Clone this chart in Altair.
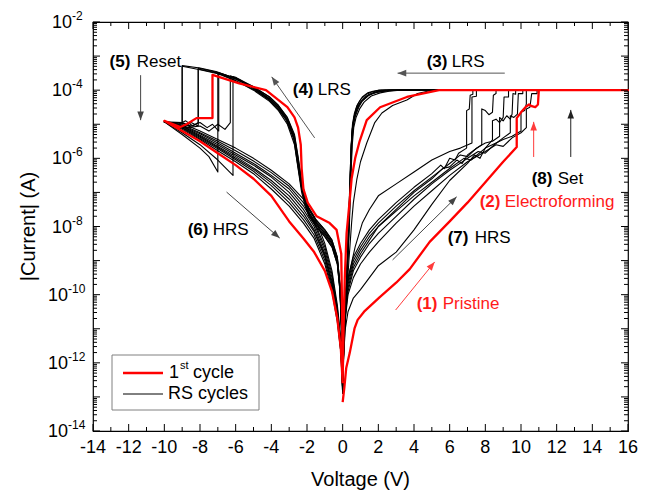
import altair as alt
import pandas as pd

FONT = "Liberation Sans"
W, H = 535, 409

# ---------------- data (voltage in V, current as log10(|I| / A)) ----------------
# shared voltage grid of the negative HRS branch, swept from -9 V back to 0 V
hrs_neg_v = [-9, -8, -7, -6, -5, -4, -3, -2.2, -1.6, -1.0, -0.6, -0.3, -0.1, 0]

# 1st cycle (red): pristine -> electroforming -> LRS(+) -> LRS(-) -> reset -> HRS(-)
red_v = [0, 0.1, 0.2, 0.4, 0.67, 0.84, 1.2, 2.08, 3.0, 3.76, 4.88, 6.0, 7.0, 8.0, 9.0, 9.76,
         9.76, 10.0, 10.25, 10.45, 10.6, 10.8, 10.95, 11.0, 16.0,
         5.4, 3.6, 2.1, 1.35, 0.95, 0.7, 0.5, 0.4, 0.22, 0.12, 0.05, 0.0,
         -0.03, -0.08, -0.34, -0.73, -1.46, -1.96, -2.2, -2.3, -2.35, -2.5, -2.7, -3.1, -4.3, -5.8, -7.3,
         -7.3, -8.2, -8.75, -9.1, -10.0] + hrs_neg_v
red_logi = [-13.15, -12.7, -12.15, -11.7, -10.98, -10.74, -10.5, -10.07, -9.65, -9.25, -8.45, -7.85, -7.3, -6.7, -6.1, -5.67,
            -4.82, -4.65, -4.5, -4.42, -4.47, -4.5, -4.42, -4.0, -4.0,
            -4.0, -4.2, -4.5, -4.88, -5.5, -6.0, -6.6, -7.2, -8.2, -9.5, -11.0, -12.5,
            -10.5, -8.8, -8.1, -7.9, -7.7, -7.3, -6.9, -6.3, -5.6, -5.1, -4.8, -4.5, -4.0, -3.8, -3.55,
            -4.82, -4.82, -5.0, -5.08, -4.9,
            -5.2, -5.5, -5.85, -6.2, -6.6, -7.1, -7.85, -8.35, -8.75, -9.3, -9.9, -10.7, -11.6, -12.6]

# RS cycles (black): HRS(+) -> set -> compliance -> LRS(+) -> LRS(-) -> reset -> HRS(-)
b1_v = ([0, 0.05, 0.15, 0.3, 0.6, 1, 1.5, 2, 3, 4, 5, 5.5, 5.7, 6, 6.3, 6.5, 6.95]
        + [6.95, 7.1, 7.15, 7.3, 7.3] + [12.0]
        + [3.0, 2.5, 2.0, 1.5, 1.1, 0.9, 0.7, 0.6, 0.5, 0.45, 0.4, 0.35, 0.3, 0.22, 0.12, 0.05, 0]
        + [-0.05, -0.15, -0.3, -0.6, -1.0, -1.5, -1.9, -2.1, -2.3, -2.5, -2.7, -3.1, -3.6, -4.1, -5.0, -6.0, -6.15]
        + [-6.15, -7, -8, -9, -10] + hrs_neg_v)
b1_logi = ([-12.7, -11.2, -10.2, -9.5, -8.9, -8.5, -8.1, -7.8, -7.3, -6.85, -6.45, -6.2, -6.3, -6.0, -6.05, -5.85, -5.7]
           + [-4.6, -4.55, -4.15, -4.12, -4.0] + [-4.0]
           + [-4.0, -4.02, -4.05, -4.12, -4.3, -4.45, -4.7, -4.95, -5.5, -6.2, -7.0, -7.8, -8.6, -9.6, -10.8, -11.8, -12.7]
           + [-11.2, -9.8, -9.0, -8.5, -8.2, -7.9, -7.6, -7.3, -6.9, -6.2, -5.5, -4.9, -4.55, -4.3, -3.95, -3.62, -3.6]
           + [-6.5, -6.05, -5.6, -5.25, -4.93]
           + [-5.08, -5.35, -5.65, -5.95, -6.28, -6.65, -7.1, -7.6, -8.1, -8.85, -9.7, -10.6, -11.6, -12.7])

b2_v = ([0, 0.05, 0.15, 0.3, 0.6, 1, 1.5, 2, 3, 4, 5, 5.6, 6, 6.4, 6.7, 7, 7.4, 7.8]
        + [7.8, 8.0, 8.2, 8.4, 8.45, 8.6, 8.6] + [12.0]
        + [2.6, 2.2, 1.8, 1.4, 1.0, 0.8, 0.65, 0.55, 0.48, 0.43, 0.38, 0.33, 0.28, 0.2, 0.1, 0.04, 0]
        + [-0.05, -0.15, -0.3, -0.6, -1.0, -1.5, -1.85, -2.05, -2.25, -2.45, -2.65, -3.0, -3.5, -4.1, -5.0, -6.0, -7.0, -8.1]
        + [-8.1, -8.5, -9.0, -9.5, -10] + hrs_neg_v)
b2_logi = ([-12.8, -11.4, -10.5, -9.8, -9.2, -8.8, -8.4, -8.0, -7.5, -7.0, -6.6, -6.3, -6.25, -6.05, -6.15, -5.9, -5.75, -5.6]
           + [-4.55, -4.6, -4.72, -4.65, -4.15, -4.1, -4.0] + [-4.0]
           + [-4.0, -4.03, -4.07, -4.16, -4.36, -4.55, -4.8, -5.1, -5.6, -6.3, -7.1, -7.9, -8.7, -9.7, -10.9, -11.9, -12.8]
           + [-11.3, -9.9, -9.1, -8.6, -8.3, -8.0, -7.7, -7.35, -6.95, -6.25, -5.55, -4.95, -4.55, -4.25, -3.92, -3.65, -3.48, -3.35]
           + [-5.05, -4.95, -5.1, -5.0, -4.93]
           + [-5.02, -5.25, -5.5, -5.78, -6.08, -6.42, -6.82, -7.3, -7.85, -8.6, -9.4, -10.4, -11.4, -12.8])

b3_v = ([0, 0.05, 0.15, 0.3, 0.6, 1, 1.5, 2, 3, 4, 5, 6, 7, 7.4, 7.7, 8, 8.4]
        + [8.4, 8.6, 8.8, 9.0, 9.05, 9.3, 9.3] + [12.0]
        + [5.0, 4.2, 3.6, 2.8, 2.2, 1.8, 1.35, 1.0, 0.8, 0.6, 0.5, 0.42, 0.35, 0.28, 0.2, 0.1, 0.04, 0]
        + [-0.05, -0.15, -0.3, -0.6, -1.0, -1.5, -1.9, -2.1, -2.3, -2.5, -2.7, -3.14, -3.6, -4.1, -5.2, -6.2, -7.1, -8.0, -9.0]
        + [-9.0, -9.3, -9.6, -10] + hrs_neg_v)
b3_logi = ([-12.9, -11.8, -11.0, -10.5, -10.1, -9.85, -9.5, -9.15, -8.75, -8.1, -7.35, -6.65, -6.15, -5.9, -6.0, -5.7, -5.46]
           + [-4.9, -4.85, -4.95, -4.8, -4.2, -4.2, -4.0] + [-4.0]
           + [-4.0, -4.1, -4.29, -4.45, -4.67, -4.95, -5.55, -6.1, -6.6, -7.3, -7.9, -8.5, -9.0, -9.6, -10.3, -11.2, -12.0, -12.9]
           + [-11.0, -9.7, -8.9, -8.4, -8.1, -7.8, -7.5, -7.15, -6.8, -6.1, -5.4, -4.85, -4.5, -4.25, -3.88, -3.62, -3.45, -3.35, -3.28]
           + [-4.95, -5.05, -4.95, -4.93]
           + [-5.15, -5.45, -5.78, -6.1, -6.45, -6.9, -7.4, -7.9, -8.35, -9.1, -9.9, -10.8, -11.7, -12.9])

b4_v = ([0, 0.05, 0.15, 0.3, 0.6, 1, 1.5, 2, 3, 4, 5, 6, 6.6, 7, 7.5, 8, 8.4, 8.8]
        + [8.8, 9.0, 9.2, 9.4, 9.5, 9.55, 9.7, 9.7] + [12.0]
        + [2.2, 1.9, 1.6, 1.3, 1.0, 0.8, 0.65, 0.55, 0.5, 0.46, 0.42, 0.37, 0.32, 0.24, 0.13, 0.05, 0]
        + [-0.05, -0.15, -0.3, -0.6, -1.0, -1.5, -1.95, -2.15, -2.35, -2.55, -2.75, -3.2, -3.7, -4.2, -5.0, -6.0, -6.95]
        + [-6.95, -7.3, -7.6, -8.0, -8.5, -9.0, -10] + hrs_neg_v)
b4_logi = ([-12.8, -11.3, -10.3, -9.6, -9.0, -8.6, -8.2, -7.9, -7.4, -6.95, -6.55, -6.15, -5.9, -5.95, -5.7, -5.55, -5.5, -5.35]
           + [-4.8, -4.9, -4.75, -4.85, -4.7, -4.1, -4.12, -4.0] + [-4.0]
           + [-4.0, -4.02, -4.06, -4.13, -4.28, -4.45, -4.7, -5.0, -5.4, -6.0, -6.8, -7.7, -8.5, -9.5, -10.7, -11.7, -12.7]
           + [-11.2, -9.8, -9.0, -8.5, -8.2, -7.9, -7.55, -7.2, -6.75, -6.1, -5.4, -4.85, -4.5, -4.25, -3.98, -3.72, -3.5]
           + [-5.2, -5.0, -5.1, -4.95, -5.05, -4.95, -4.93]
           + [-4.98, -5.2, -5.45, -5.7, -6.0, -6.35, -6.75, -7.2, -7.7, -8.5, -9.3, -10.3, -11.3, -12.7])

b5_v = ([0, 0.05, 0.15, 0.3, 0.6, 1, 1.5, 2, 3, 4, 5, 6, 7, 7.6, 8, 8.5, 9, 9.4]
        + [9.4, 9.6, 9.8, 9.85, 10.1, 10.1] + [12.0]
        + [2.8, 2.3, 1.9, 1.5, 1.1, 0.9, 0.72, 0.6, 0.52, 0.47, 0.42, 0.37, 0.31, 0.23, 0.12, 0.05, 0]
        + [-0.05, -0.15, -0.3, -0.6, -1.0, -1.5, -1.9, -2.1, -2.3, -2.5, -2.7, -3.1, -3.6, -4.1, -5.0, -5.8, -6.3]
        + [-6.3, -6.6, -7.0, -7.5, -8.0, -8.7, -9.3, -10] + hrs_neg_v)
b5_logi = ([-12.7, -11.5, -10.6, -9.9, -9.3, -8.9, -8.5, -8.2, -7.7, -7.2, -6.75, -6.35, -6.0, -5.8, -5.85, -5.6, -5.4, -5.25]
           + [-4.75, -4.8, -4.7, -4.1, -4.1, -4.0] + [-4.0]
           + [-4.0, -4.02, -4.06, -4.14, -4.32, -4.5, -4.75, -5.05, -5.55, -6.25, -7.05, -7.85, -8.65, -9.6, -10.8, -11.8, -12.7]
           + [-11.1, -9.75, -8.95, -8.45, -8.15, -7.85, -7.5, -7.15, -6.7, -6.0, -5.35, -4.82, -4.45, -4.2, -3.9, -3.68, -3.58]
           + [-4.95, -5.15, -5.0, -5.2, -5.05, -5.1, -4.98, -4.93]
           + [-5.06, -5.32, -5.6, -5.9, -6.2, -6.55, -7.0, -7.5, -8.0, -8.8, -9.6, -10.5, -11.5, -12.8])

b6_v = ([0, 0.05, 0.15, 0.3, 0.6, 1, 1.5, 2, 3, 4, 5, 6, 6.8, 7.2, 8, 8.6, 9, 9.5, 10]
        + [10.0, 10.2, 10.3, 10.3] + [12.0]
        + [2.4, 2.0, 1.7, 1.3, 1.0, 0.8, 0.65, 0.55, 0.49, 0.44, 0.39, 0.34, 0.29, 0.21, 0.11, 0.04, 0]
        + [-0.05, -0.15, -0.3, -0.6, -1.0, -1.5, -1.9, -2.1, -2.3, -2.5, -2.7, -3.1, -3.6, -4.1, -5.0, -6.0, -7.0, -8.1]
        + [-8.1, -8.4, -8.8, -9.2, -10] + hrs_neg_v)
b6_logi = ([-12.8, -11.4, -10.4, -9.7, -9.1, -8.7, -8.3, -8.0, -7.55, -7.1, -6.7, -6.3, -6.0, -6.05, -5.7, -5.55, -5.45, -5.35, -5.2]
           + [-4.65, -4.6, -4.4, -4.0] + [-4.0]
           + [-4.0, -4.03, -4.08, -4.18, -4.35, -4.52, -4.78, -5.1, -5.6, -6.35, -7.15, -7.95, -8.75, -9.7, -10.9, -11.9, -12.8]
           + [-11.2, -9.85, -9.05, -8.55, -8.25, -7.95, -7.6, -7.25, -6.85, -6.15, -5.45, -4.9, -4.5, -4.27, -3.94, -3.67, -3.5, -3.38]
           + [-4.95, -5.05, -4.9, -5.0, -4.93]
           + [-5.12, -5.42, -5.72, -6.04, -6.38, -6.8, -7.3, -7.8, -8.25, -9.0, -9.8, -10.7, -11.7, -12.9])

b7_v = ([0, 0.05, 0.15, 0.3, 0.6, 1, 1.5, 2, 3, 4, 5, 6, 7, 8, 8.6, 9, 9.5, 10, 10.3]
        + [10.3, 10.5, 10.6, 10.9, 10.9] + [12.0]
        + [3.2, 2.6, 2.1, 1.6, 1.2, 0.95, 0.75, 0.62, 0.54, 0.48, 0.43, 0.38, 0.32, 0.24, 0.13, 0.05, 0]
        + [-0.05, -0.15, -0.3, -0.6, -1.0, -1.5, -1.9, -2.1, -2.3, -2.5, -2.7, -3.1, -3.6, -4.1, -5.0, -6.0, -7.0]
        + [-7.0, -7.5, -8.0, -9.0, -10] + hrs_neg_v)
b7_logi = ([-12.9, -11.6, -10.7, -10.0, -9.5, -9.1, -8.75, -8.45, -7.9, -7.4, -6.95, -6.5, -6.1, -5.8, -5.6, -5.65, -5.4, -5.25, -5.1]
           + [-4.55, -4.5, -4.1, -4.1, -4.0] + [-4.0]
           + [-4.0, -4.03, -4.08, -4.17, -4.35, -4.55, -4.8, -5.1, -5.6, -6.3, -7.1, -7.9, -8.7, -9.7, -10.9, -11.9, -12.9]
           + [-11.0, -9.7, -8.9, -8.4, -8.1, -7.8, -7.45, -7.1, -6.65, -5.95, -5.3, -4.8, -4.45, -4.2, -3.9, -3.66, -3.48]
           + [-6.4, -5.95, -5.7, -5.3, -4.93]
           + [-5.05, -5.28, -5.55, -5.85, -6.15, -6.5, -6.9, -7.4, -7.9, -8.7, -9.5, -10.5, -11.5, -12.7])

b8_v = ([0, 0.05, 0.15, 0.4, 0.7, 1.1, 1.5, 2, 3, 4, 5, 6, 6.6, 7.25]
        + [7.25, 7.5, 7.5] + [12.0]
        + [2.0, 1.7, 1.4, 1.1, 0.9, 0.75, 0.62, 0.53, 0.47, 0.42, 0.37, 0.32, 0.27, 0.2, 0.1, 0.04, 0]
        + [-0.05, -0.15, -0.3, -0.6, -1.0, -1.5, -1.9, -2.1, -2.3, -2.5, -2.7, -3.1, -3.6, -4.1, -5.0, -6.0, -7.0, -8.0, -9.0]
        + [-9.0, -9.4, -10] + hrs_neg_v)
b8_logi = ([-12.6, -10.9, -9.9, -9.3, -8.6, -7.9, -7.5, -7.1, -6.75, -6.4, -6.05, -5.8, -5.7, -5.55]
           + [-4.2, -4.18, -4.0] + [-4.0]
           + [-4.0, -4.03, -4.08, -4.2, -4.36, -4.55, -4.82, -5.2, -5.75, -6.5, -7.35, -8.15, -8.9, -9.8, -11.0, -11.9, -12.7]
           + [-11.3, -9.9, -9.1, -8.6, -8.3, -8.0, -7.7, -7.4, -7.0, -6.3, -5.6, -5.0, -4.6, -4.33, -4.0, -3.72, -3.52, -3.4, -3.3]
           + [-5.1, -4.98, -4.93]
           + [-5.1, -5.38, -5.68, -6.0, -6.32, -6.72, -7.2, -7.7, -8.15, -8.9, -9.7, -10.6, -11.6, -12.8])

# axis ticks / labels
x_tick_values = list(range(-14, 17, 2))
x_minor_values = list(range(-13, 16, 2))
y_decades = list(range(-14, -1))
y_label_exponents = [-14, -12, -10, -8, -6, -4, -2]

# annotations: bold number, plain word, colour
ann_num = ["(5)", "(4)", "(3)", "(6)", "(7)", "(2)", "(8)", "(1)"]
ann_word = ["Reset", "LRS", "LRS", "HRS", "HRS", "Electroforming", "Set", "Pristine"]
ann_num_v = [-13.07, -2.80, 4.71, -8.69, 5.89, 7.68, 10.60, 4.15]
ann_word_v = [-11.55, -1.40, 6.11, -7.29, 7.40, 9.09, 12.06, 5.61]
ann_logi = [-3.17, -4.0, -3.17, -8.10, -8.34, -7.28, -6.61, -10.27]
ann_color = ["black", "black", "black", "black", "black", "#ff1a1a", "black", "#ff1a1a"]

arrow_v0 = [-11.33, -1.57, 9.09, -6.51, 2.80, 10.71, 12.79, 2.97]
arrow_l0 = [-3.56, -5.40, -3.50, -6.99, -8.98, -5.96, -5.96, -10.45]
arrow_v1 = [-11.33, -3.98, 3.08, -3.53, 6.39, 10.71, 12.79, 5.16]
arrow_l1 = [-4.88, -3.61, -3.50, -8.34, -7.13, -4.93, -4.58, -9.04]
arrow_angle = [180, 325, 270, 131, 45, 0, 0, 39]
arrow_color = ["#444444", "#555555", "#555555", "#444444", "#444444", "#ff3b3b", "#222222", "#ff3b3b"]

# ---------------- build tables ----------------
def path_rows(name, vs, ls):
    assert len(vs) == len(ls), (name, len(vs), len(ls))
    return [{"cycle": name, "step": i, "V": v, "I": 10 ** l} for i, (v, l) in enumerate(zip(vs, ls))]

black_rows = []
for nm, vv, ll in [("b1", b1_v, b1_logi), ("b2", b2_v, b2_logi), ("b3", b3_v, b3_logi),
                   ("b4", b4_v, b4_logi), ("b5", b5_v, b5_logi), ("b6", b6_v, b6_logi),
                   ("b7", b7_v, b7_logi), ("b8", b8_v, b8_logi)]:
    black_rows += path_rows(nm, vv, ll)
black_df = pd.DataFrame(black_rows)
red_df = pd.DataFrame(path_rows("red", red_v, red_logi))

xscale = alt.Scale(domain=[-14, 16], nice=False, zero=False)
yscale = alt.Scale(type="log", domain=[1e-14, 1e-2], nice=False)

def X(f="V"):
    return alt.X(f"{f}:Q", scale=xscale, axis=None)

def Y(f="I"):
    return alt.Y(f"{f}:Q", scale=yscale, axis=None)

black = alt.Chart(black_df).mark_line(color="black", strokeWidth=1.1, strokeJoin="round").encode(
    x=X(), y=Y(), detail="cycle:N", order="step:Q")
red = alt.Chart(red_df).mark_line(color="#ff0000", strokeWidth=2.3, strokeJoin="round").encode(
    x=X(), y=Y(), detail="cycle:N", order="step:Q")

# ticks (inward)
xt = pd.DataFrame({"V": x_tick_values})
xm = pd.DataFrame({"V": x_minor_values})
yt = pd.DataFrame({"I": [10.0 ** d for d in y_decades]})
ym = pd.DataFrame({"I": [m * 10.0 ** d for d in y_decades[:-1] for m in range(2, 10)]})

def xticks(df, L):
    b = alt.Chart(df).mark_rule(color="black", strokeWidth=1).encode(x=X(), y=alt.value(H), y2=alt.value(H - L))
    t = alt.Chart(df).mark_rule(color="black", strokeWidth=1).encode(x=X(), y=alt.value(0), y2=alt.value(L))
    return b + t

def yticks(df, L):
    l = alt.Chart(df).mark_rule(color="black", strokeWidth=1).encode(y=Y(), x=alt.value(0), x2=alt.value(L))
    r = alt.Chart(df).mark_rule(color="black", strokeWidth=1).encode(y=Y(), x=alt.value(W), x2=alt.value(W - L))
    return l + r

ticks = xticks(xt, 7) + xticks(xm, 4) + yticks(yt, 7) + yticks(ym, 4)

# tick labels
xl_df = pd.DataFrame({"V": x_tick_values, "t": [str(v) for v in x_tick_values]})
x_labels = alt.Chart(xl_df).mark_text(font=FONT, fontSize=18, baseline="middle", align="center", color="black").encode(
    x=X(), y=alt.value(H + 17), text="t:N")

yl_df = pd.DataFrame({"I": [10.0 ** e for e in y_label_exponents],
                      "e": [str(e) for e in y_label_exponents],
                      "two": [len(str(e)) > 2 for e in y_label_exponents]})
y_labels = alt.layer()
for two, xpos in [(True, -25), (False, -21)]:
    d = yl_df[yl_df["two"] == two]
    y_labels += alt.Chart(d).mark_text(font=FONT, fontSize=18, baseline="middle", align="right", dy=1, color="black").encode(
        x=alt.value(xpos), y=Y(), text=alt.value("10"))
    y_labels += alt.Chart(d).mark_text(font=FONT, fontSize=12, baseline="middle", align="left", dy=-6, color="black").encode(
        x=alt.value(xpos), y=Y(), text="e:N")

one = pd.DataFrame({"a": [0]})
x_title = alt.Chart(one).mark_text(font=FONT, fontSize=20, align="center", baseline="middle", color="black",
                                   text="Voltage (V)").encode(x=alt.value(W / 2), y=alt.value(H + 49))
y_title = alt.Chart(one).mark_text(font=FONT, fontSize=20, align="center", baseline="middle", angle=270, color="black",
                                   text="|Current| (A)").encode(x=alt.value(-64), y=alt.value(H / 2))

# annotations
ann_df = pd.DataFrame({"num": ann_num, "word": ann_word, "vn": ann_num_v, "vw": ann_word_v,
                       "I": [10 ** l for l in ann_logi], "c": ann_color})
ann_num_layer = alt.Chart(ann_df).mark_text(font=FONT, fontSize=17, fontWeight="bold", align="left", baseline="middle").encode(
    x=X("vn"), y=Y(), text="num:N", color=alt.Color("c:N", scale=None))
ann_word_layer = alt.Chart(ann_df).mark_text(font=FONT, fontSize=17, align="left", baseline="middle").encode(
    x=X("vw"), y=Y(), text="word:N", color=alt.Color("c:N", scale=None))

arr_df = pd.DataFrame({"v0": arrow_v0, "v1": arrow_v1,
                       "i0": [10 ** l for l in arrow_l0], "i1": [10 ** l for l in arrow_l1],
                       "ang": arrow_angle, "c": arrow_color})
arrow_lines = alt.Chart(arr_df).mark_rule(strokeWidth=1).encode(
    x=X("v0"), x2="v1:Q", y=Y("i0"), y2="i1:Q", color=alt.Color("c:N", scale=None))
arrow_heads = alt.Chart(arr_df).mark_point(shape="M0,0L-0.38,1L0.38,1Z", filled=True, size=300, opacity=1).encode(
    x=X("v1"), y=Y("i1"), angle=alt.Angle("ang:Q", scale=None), color=alt.Color("c:N", scale=None))

# legend
leg_box = alt.Chart(one).mark_rect(fill="white", stroke="#808080", strokeWidth=1).encode(
    x=alt.value(19), x2=alt.value(166), y=alt.value(333), y2=alt.value(388))
leg_red = alt.Chart(one).mark_rule(color="#ff0000", strokeWidth=2.5).encode(
    x=alt.value(30), x2=alt.value(70), y=alt.value(351))
leg_black = alt.Chart(one).mark_rule(color="black", strokeWidth=1).encode(
    x=alt.value(30), x2=alt.value(70), y=alt.value(372))
leg_t1 = alt.Chart(one).mark_text(font=FONT, fontSize=18, align="left", baseline="middle", color="black", text="1").encode(
    x=alt.value(76), y=alt.value(351))
leg_st = alt.Chart(one).mark_text(font=FONT, fontSize=11, align="left", baseline="middle", color="black", text="st").encode(
    x=alt.value(87), y=alt.value(344))
leg_cyc = alt.Chart(one).mark_text(font=FONT, fontSize=18, align="left", baseline="middle", color="black", text="cycle").encode(
    x=alt.value(100), y=alt.value(351))
leg_rs = alt.Chart(one).mark_text(font=FONT, fontSize=18, align="left", baseline="middle", color="black", text="RS cycles").encode(
    x=alt.value(75), y=alt.value(372))

chart = alt.layer(
    black, red, ticks, x_labels, y_labels, x_title, y_title,
    arrow_lines, arrow_heads, ann_num_layer, ann_word_layer,
    leg_box, leg_red, leg_black, leg_t1, leg_st, leg_cyc, leg_rs,
).properties(
    width=W, height=H,
    padding={"left": 85, "top": 14, "right": 15, "bottom": 75},
    autosize=alt.AutoSizeParams(type="none"),
    background="white",
).configure_view(stroke="black", strokeWidth=1.2)

chart.save("out.html", embed_options={"renderer": "svg", "actions": False})
